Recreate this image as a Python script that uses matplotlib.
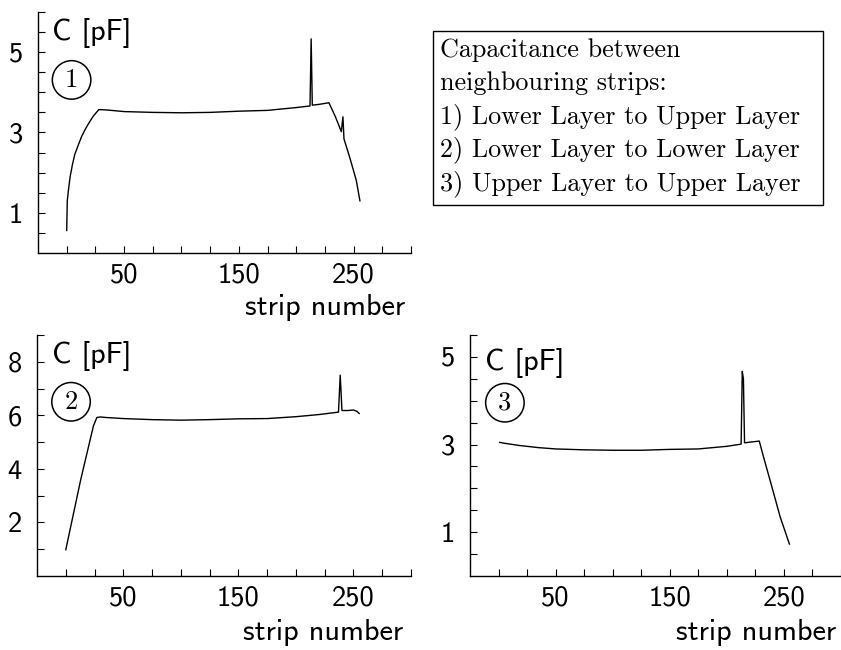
import numpy as np
import matplotlib
matplotlib.use("Agg")
import matplotlib.pyplot as plt

# curve 1: lower layer to upper layer
strip_1 = [0, 0.5, 1.5, 3, 5, 7, 10, 13, 16, 19, 23, 28, 35, 50, 75, 100, 125,
           150, 175, 200, 212, 213, 214, 220, 228.5, 234, 239.3, 240.7, 241.6,
           246.5, 252.3, 255.5]
cap_1 = [0.56, 1.3, 1.56, 1.9, 2.2, 2.45, 2.68, 2.9, 3.07, 3.22, 3.4, 3.57,
         3.56, 3.52, 3.50, 3.49, 3.50, 3.53, 3.55, 3.62, 3.66, 5.33, 3.68,
         3.70, 3.74, 3.40, 3.02, 3.39, 2.84, 2.39, 1.81, 1.30]

# curve 2: lower layer to lower layer
strip_2 = [0, 13, 24, 27, 30, 35, 50, 75, 100, 125, 150, 175, 200, 220, 237,
           238.5, 240, 245, 250, 253, 255]
cap_2 = [0.98, 3.6, 5.6, 5.92, 5.94, 5.92, 5.88, 5.84, 5.82, 5.84, 5.87,
         5.88, 5.95, 6.03, 6.12, 7.5, 6.18, 6.18, 6.2, 6.15, 6.07]

# curve 3: upper layer to upper layer
strip_3 = [1, 5, 18, 35, 50, 75, 100, 125, 150, 175, 200, 212.5, 213.5,
           214.5, 215.5, 228.4, 232, 239.4, 246.7, 254.8]
cap_3 = [3.05, 3.03, 2.98, 2.93, 2.90, 2.88, 2.87, 2.87, 2.89, 2.90, 2.96,
         3.01, 4.67, 4.5, 3.04, 3.08, 2.73, 2.04, 1.35, 0.73]

x_ticks = np.arange(0, 301, 25)
x_labels = {50: "50", 150: "150", 250: "250"}

panels = [
    (strip_1, cap_1, "1", (0, 6), 0.5, [1, 3, 5]),
    (strip_2, cap_2, "2", (0, 9), 1.0, [2, 4, 6, 8]),
    (strip_3, cap_3, "3", (0, 5.5), 0.5, [1, 3, 5]),
]

legend_lines = ["Capacitance between",
                "neighbouring strips:",
                "1) Lower Layer to Upper Layer",
                "2) Lower Layer to Lower Layer",
                "3) Upper Layer to Upper Layer"]

sans = "cmss10"
serif = "cmr10"
fs_tick = 20.5
fs_lab = 21.8

fig = plt.figure(figsize=(8.41, 6.5), dpi=100)
rects = [[0.0452, 0.6108, 0.4435, 0.3708],
         [0.0440, 0.1138, 0.4447, 0.3708],
         [0.5589, 0.1138, 0.4411, 0.3708]]
circ_pos = [(0.09, 0.718), (0.091, 0.723), (0.094, 0.719)]
cpf_pos = [(0.0375, 0.884), (0.04, 0.884), (0.04, 0.855)]
xlab_pos = [(0.984, -0.257), (0.979, -0.264), (0.988, -0.266)]

for i, (xs, ys, tag, ylim, ystep, ylab) in enumerate(panels):
    ax = fig.add_axes(rects[i])
    ax.plot(xs, ys, color="black", linewidth=1.0)
    ax.set_xlim(-25, 300)
    ax.set_ylim(*ylim)
    for s in ["top", "right"]:
        ax.spines[s].set_visible(False)
    for s in ["left", "bottom"]:
        ax.spines[s].set_linewidth(1.0)

    ax.set_xticks(x_ticks)
    ax.set_xticklabels([x_labels.get(int(t), "") for t in x_ticks])
    yt = np.arange(0, ylim[1] + 0.01, ystep)
    yt = yt[yt > 0]
    ax.set_yticks(yt)
    ax.set_yticklabels([f"{v:g}" if v in ylab else "" for v in yt])
    ax.tick_params(direction="in", length=5, width=0.8, labelsize=fs_tick)
    ax.tick_params(axis="y", pad=11)
    ax.tick_params(axis="x", pad=7)
    for lab in ax.get_xticklabels() + ax.get_yticklabels():
        lab.set_fontfamily(sans)

    ax.text(cpf_pos[i][0], cpf_pos[i][1], "C [pF]", transform=ax.transAxes,
            fontsize=fs_lab, family=sans, va="baseline", ha="left")
    ax.text(circ_pos[i][0], circ_pos[i][1], tag, transform=ax.transAxes,
            fontsize=19, family=serif, va="center", ha="center",
            bbox=dict(boxstyle="circle,pad=0.28", fc="white", ec="black",
                      lw=1.1))
    ax.text(xlab_pos[i][0], xlab_pos[i][1], "strip number",
            transform=ax.transAxes, fontsize=fs_lab, family=sans,
            va="baseline", ha="right", clip_on=False)

# legend box
box = plt.Rectangle((0.5145, 0.6846), 0.4641, 0.2677, transform=fig.transFigure,
                    fill=False, edgecolor="black", linewidth=1.0)
fig.add_artist(box)
for k, line in enumerate(legend_lines):
    y_px = 56.7 + 33.3 * k
    fig.text(440 / 841, 1 - y_px / 650, line, fontsize=18.8, family=serif,
             va="baseline", ha="left")

fig.savefig("out.png", dpi=100)
